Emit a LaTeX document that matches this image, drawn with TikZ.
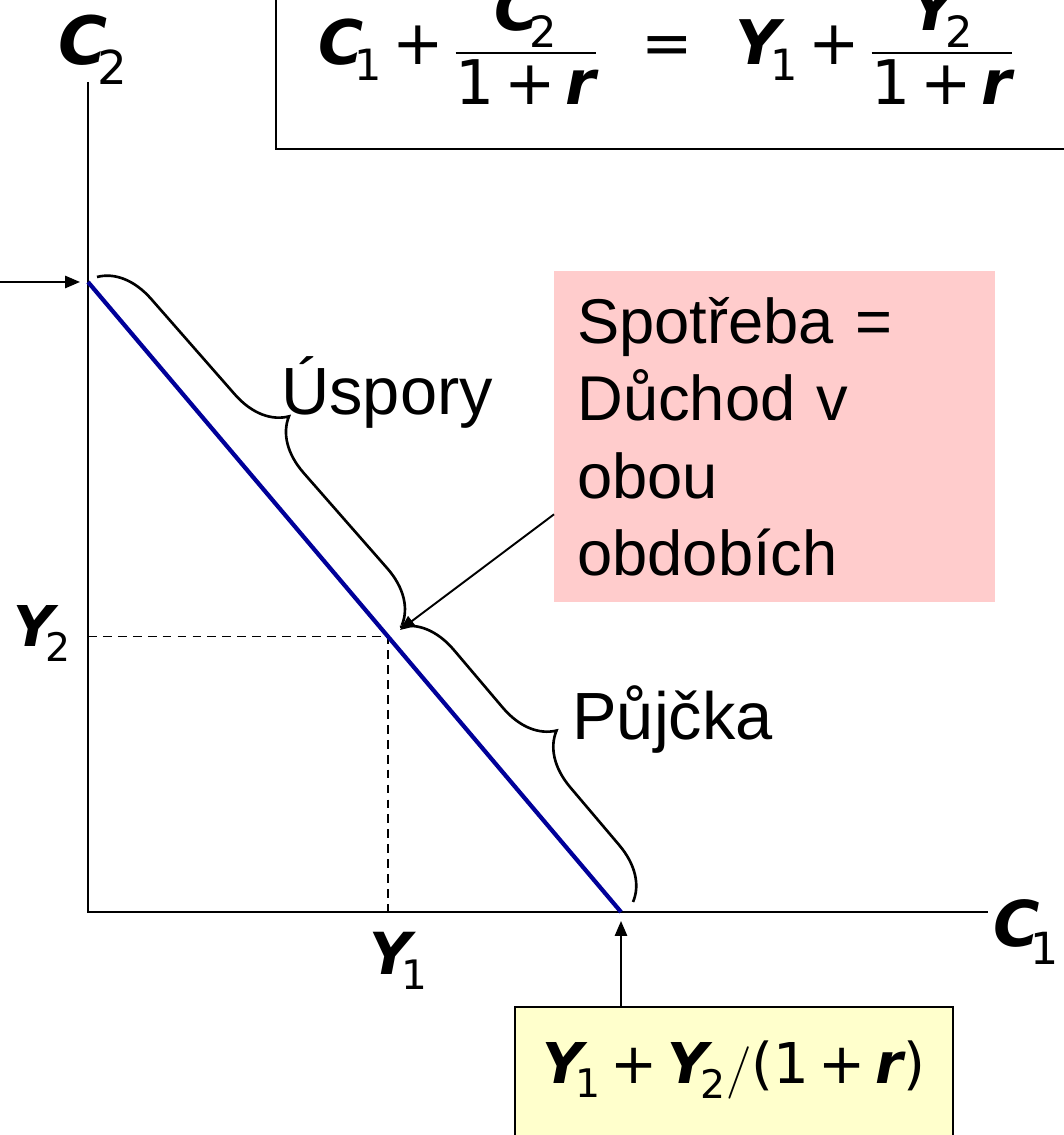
\documentclass[tikz,border=0pt]{standalone}
\usepackage{amsmath}
\usepackage{fontspec}
\setmainfont{Liberation Sans}
\newfontfamily\verdfont{DejaVu Sans}
\usetikzlibrary{arrows.meta,positioning,calc,decorations.pathreplacing}
\definecolor{budget}{HTML}{000099}
\definecolor{pinkbox}{HTML}{FFCCCC}
\definecolor{yellowbox}{HTML}{FFFFCC}
\newcommand\vb[1]{\text{\verdfont\bfseries\itshape #1}}
\newcommand\dg[1]{\text{\verdfont #1}}
\newcommand\pl{\mathbin{\dg{+}}}
\tikzset{
  axis/.style={draw=black,line width=1.7pt},
  budgetline/.style={draw=budget,line width=2.4pt},
  guide/.style={draw=black,line width=0.8pt,dash pattern=on 5pt off 3.5pt},
  arrow/.style={-{Triangle[length=8.5pt,width=7pt]},draw=black,line width=1.1pt},
  curly/.style={decorate,decoration={brace,amplitude=1.05cm},line width=1.5pt},
  lbl/.style={font=\fontsize{38}{46}\selectfont,inner sep=0pt,anchor=base west},
  sym/.style={inner sep=0pt,anchor=base west},
  note/.style={fill=pinkbox,align=left,text width=7.9cm,inner xsep=0.46cm,
    minimum height=6.62cm,font=\fontsize{36}{44}\selectfont},
  result/.style={draw=black,fill=yellowbox,line width=1pt,minimum width=8.76cm,
    inner xsep=0pt,inner ysep=0.44cm,text height=1.1cm,text depth=1.6cm,
    font=\fontsize{32}{38}\selectfont}
}
\begin{document}
\begin{tikzpicture}
  \useasboundingbox (-1.76,-4.46) rectangle (19.5,18.24);
  \coordinate (O) at (0,0);
  \coordinate (A) at (0,12.6);
  \coordinate (B) at (10.66,0);
  \coordinate (E) at (6,5.51);
  \coordinate (J) at (6.24,5.64);
  % axes and budget line
  \draw[axis] (0,16.6) -- (O) -- (18,0);
  \draw[guide] (0,5.51) -- (E) -- (6,0);
  \draw[budgetline] (A) -- (B);
  \node[sym,font=\fontsize{38}{46}\selectfont] (c2) at (-0.6,16.94) {$\vb{C}_{\mkern-4mu\dg{2}}$};
  \node[sym,font=\fontsize{36}{44}\selectfont] (c1) at (18.1,-0.7) {$\vb{C}_{\mkern-4mu\dg{1}}$};
  \node[sym,font=\fontsize{32}{38}\selectfont] (y2) at (-1.5,5.3) {$\vb{Y}_{\mkern-4mu\dg{2}}$};
  \node[sym,font=\fontsize{33}{40}\selectfont] (y1) at (5.62,-1.26) {$\vb{Y}_{\mkern-4mu\dg{1}}$};
  \coordinate (inA) at (-1.76,12.6);
  \draw[arrow] (inA) -- ([xshift=-0.16cm]A);
  % budget constraint
  \node[draw,line width=1pt,anchor=south west,text width=15cm,inner xsep=0.86cm,
    inner ysep=0.3cm,text height=2cm,text depth=1.4cm,font=\fontsize{35}{40}\selectfont]
    (eq) at (3.74,15.24)
    {$\vb{C}_{\mkern-4mu\dg{1}} \pl \dfrac{\vb{C}_{\mkern-4mu\dg{2}}}{\dg{1}\pl\vb{r}} \enspace\mathrel{\dg{=}}\enspace \vb{Y}_{\mkern-4mu\dg{1}} \pl \dfrac{\vb{Y}_{\mkern-4mu\dg{2}}}{\dg{1}\pl\vb{r}}$};
  % braces
  \draw[curly] (0.18,12.7) -- (6.28,5.74);
  \draw[curly] (6.24,5.7) -- (10.9,0.2);
  \node[lbl] (save) at (3.86,9.94) {Úspory};
  \node[lbl] (loan) at (9.68,3.44) {Půjčka};
  \node[note,anchor=north west] (note) at (9.32,12.82) {Spotřeba =\\Důchod v\\obou\\obdobích};
  \draw[arrow] ([yshift=-1.55cm]note.west) -- (J);
  \node[result,anchor=north west] (sum) at (8.52,-1.88)
    {$\vb{Y}_{\mkern-4mu\dg{1}} \pl \vb{Y}_{\mkern-4mu\dg{2}}\big/\dg{(}\dg{1}\pl\vb{r}\dg{)}$};
  \draw[arrow] (sum.north -| B) -- ([yshift=-0.18cm]B);
\end{tikzpicture}
\end{document}
